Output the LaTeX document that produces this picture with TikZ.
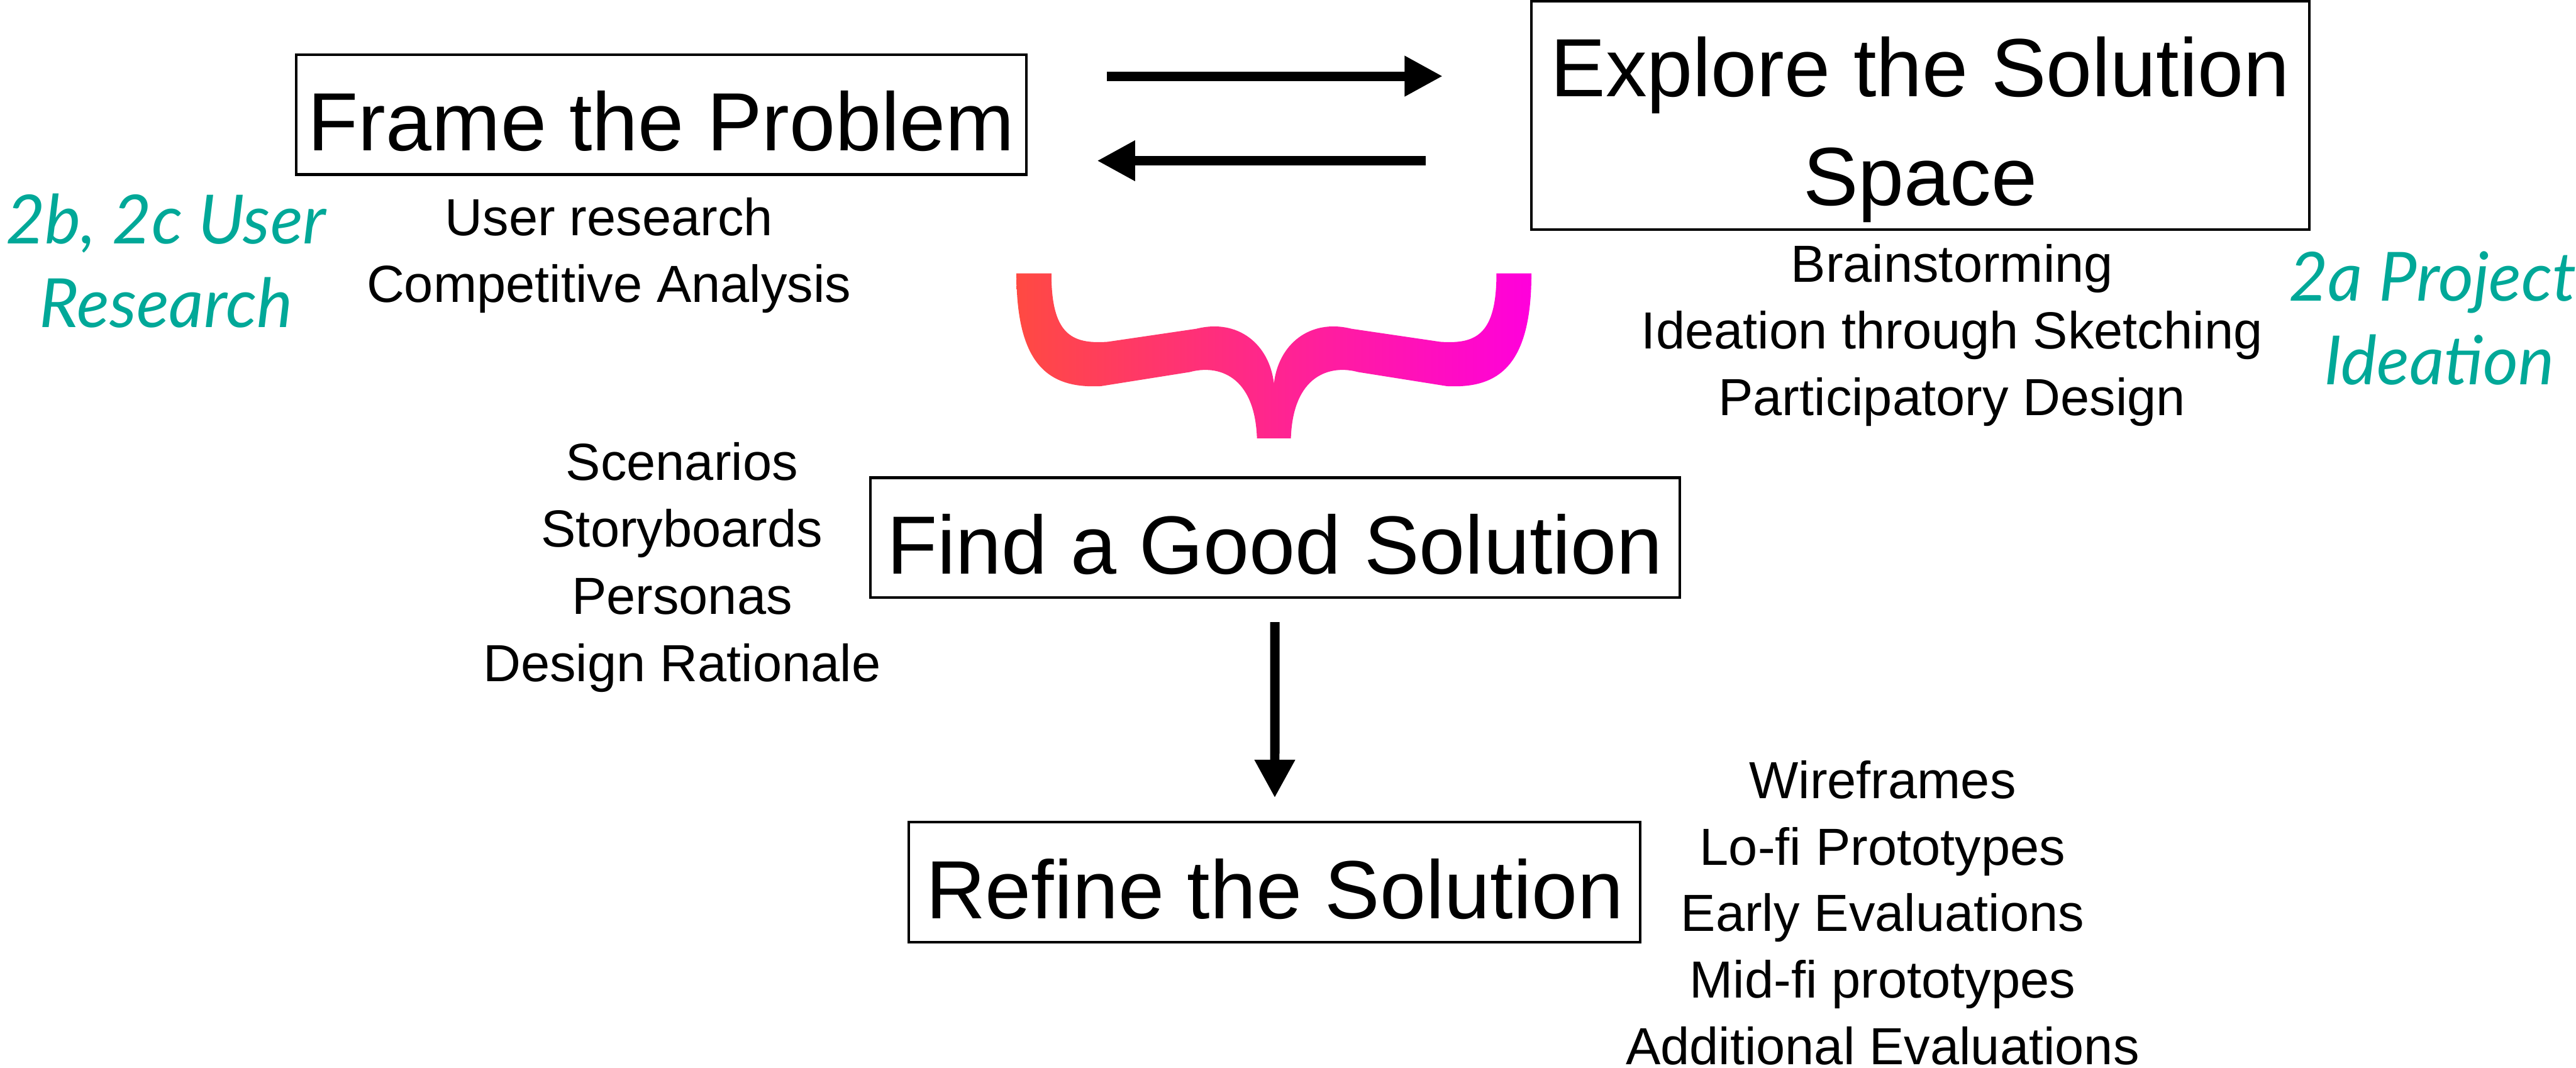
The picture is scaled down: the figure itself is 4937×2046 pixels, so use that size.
\documentclass[tikz,border=0pt]{standalone}
\usepackage{fontspec}
\setmainfont{Liberation Sans}
\newfontfamily\handfont{Lato}
\usepackage{xcolor}
\usetikzlibrary{arrows.meta}
\definecolor{HandTeal}{RGB}{0,168,152}
\definecolor{BraceRed}{RGB}{255,74,66}
\definecolor{BraceMagenta}{RGB}{255,0,220}

\tikzset{
  stage/.style = {draw, line width=1.42pt, inner sep=0pt,
    text height=1.39cm, text depth=0pt,
    font=\fontsize{45}{59.2}\selectfont},
  item/.style = {anchor=base, inner sep=0pt,
    font=\fontsize{28.45}{36.6}\selectfont},
  note/.style = {anchor=base, inner sep=0pt, text=HandTeal,
    font=\handfont\itshape\fontsize{37}{49}\selectfont},
  flow/.style = {line width=0.18cm,
    -{Triangle[width=0.73cm, length=0.73cm]}},
}

\begin{document}
\begin{tikzpicture}[x=0.01cm, y=-0.01cm]
  \useasboundingbox (0,0) rectangle (4937,2046);

  % stages
  \node[stage, minimum width=13.98cm, minimum height=2.30cm]
    (frame) at (1267.5,219.5) {Frame the Problem};
  \node[stage, align=center, text height=3.77cm, text depth=0.33cm,
    minimum width=14.90cm, minimum height=4.37cm]
    (explore) at (3680,221) {Explore the Solution\\Space};
  \node[stage, minimum width=15.50cm, minimum height=2.29cm]
    (find) at (2443.5,1030) {Find a Good Solution};
  \node[stage, minimum width=14.01cm, minimum height=2.30cm]
    (refine) at (2443,1690.5) {Refine the Solution};

  % methods under each stage
  \foreach \txt [count=\i from 0] in {User research, Competitive Analysis}
    \node[item] (frame-\i) at (1167,451+128*\i) {\txt};
  \foreach \txt [count=\i from 0] in {Brainstorming, Ideation through Sketching,
      Participatory Design}
    \node[item] (explore-\i) at (3741,540+128*\i) {\txt};
  \foreach \txt [count=\i from 0] in {Scenarios, Storyboards, Personas,
      Design Rationale}
    \node[item] (find-\i) at (1307,920+128.5*\i) {\txt};
  \foreach \txt [count=\i from 0] in {Wireframes, Lo-fi Prototypes,
      Early Evaluations, Mid-fi prototypes, Additional Evaluations}
    \node[item] (refine-\i) at (3608,1530+127.5*\i) {\txt};

  % handwritten notes
  \node[note] (uxr-a) at (318,467) {2b, 2c User};
  \node[note] (uxr-b) at (318,627) {Research};
  \node[note] (idea-a) at (4662,577) {2a Project};
  \node[note] (idea-b) at (4675,737) {Ideation};

  % arrows between stages
  \draw[flow, shorten <=1.52cm, shorten >=1.67cm]
    ([yshift=7.35mm]frame.east) -- ([yshift=7.35mm]frame.east -| explore.west);
  \draw[flow, shorten <=1.99cm, shorten >=1.33cm]
    ([yshift=-8.85mm]frame.east -| explore.west) -- ([yshift=-8.85mm]frame.east);
  \draw[flow, shorten <=4.5mm, shorten >=4.4mm] (find) -- (refine);

  % brace joining the two top stages
  \shade[left color=BraceRed, right color=BraceMagenta]
    (1948,524) .. controls (1948,700) and (2010,745) .. (2110,740)
    -- (2280,713) .. controls (2335,698) and (2405,720) .. (2409,840)
    -- (2474,840) .. controls (2478,720) and (2548,698) .. (2603,713)
    -- (2773,740) .. controls (2873,745) and (2935,700) .. (2935,524)
    -- (2868,524) .. controls (2868,640) and (2830,660) .. (2760,655)
    -- (2590,630) .. controls (2510,610) and (2450,660) .. (2441.5,735)
    .. controls (2433,660) and (2373,610) .. (2293,630)
    -- (2123,655) .. controls (2053,660) and (2015,640) .. (2015,524)
    -- cycle;
\end{tikzpicture}
\end{document}
